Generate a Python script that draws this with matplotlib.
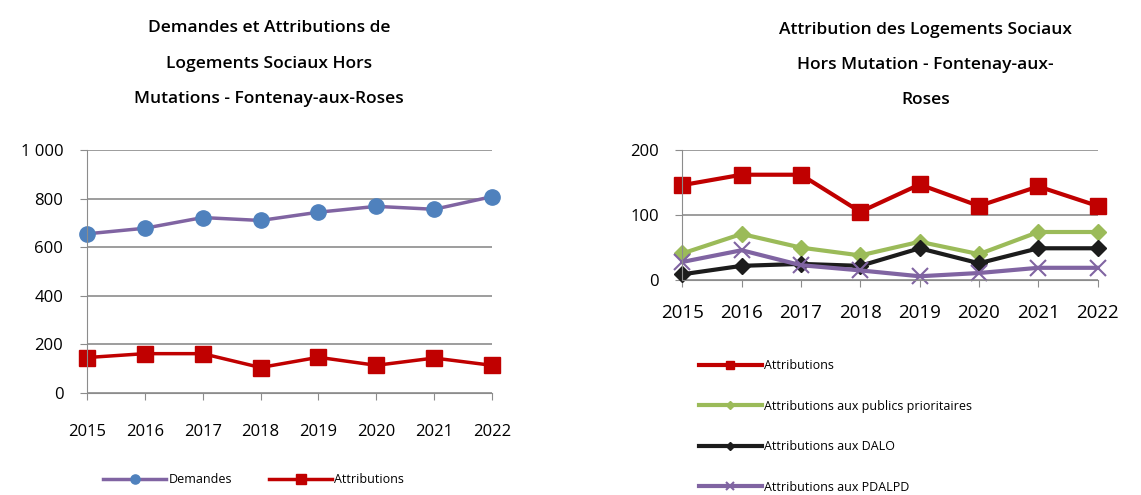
import matplotlib
matplotlib.use("Agg")
import matplotlib.pyplot as plt
import matplotlib.ticker as mticker

plt.rcParams['font.family'] = ['Open Sans', 'DejaVu Sans']

annees = [2015, 2016, 2017, 2018, 2019, 2020, 2021, 2022]
demandes = [655, 678, 722, 710, 744, 768, 756, 808]
attributions = [146, 162, 162, 105, 147, 114, 144, 114]
prioritaires = [41, 71, 50, 38, 59, 40, 74, 74]
dalo = [9, 22, 25, 22, 49, 26, 49, 49]
pdalpd = [28, 46, 23, 15, 6, 11, 19, 19]

grid_col = "#8c8c8c"


def style_axes(ax):
    for s in ["top", "right"]:
        ax.spines[s].set_visible(False)
    ax.spines["left"].set_color(grid_col)
    ax.spines["bottom"].set_color(grid_col)
    ax.yaxis.grid(True, color=grid_col, lw=1.2)
    ax.set_axisbelow(True)
    ax.tick_params(axis="both", colors=grid_col, labelcolor="black", labelsize=12, length=5)
    ax.tick_params(axis="y", pad=12)
    ax.set_xticks(annees)
    ax.set_xlim(annees[0], annees[-1])


fig = plt.figure(figsize=(11.41, 4.95), dpi=100)

# graphique de gauche
ax1 = fig.add_axes([0.0762, 0.206, 0.355, 0.491])
ax1.plot(annees, demandes, color="#8064A2", lw=2.5, marker="o", ms=11,
         mfc="#4F81BD", mec="#4F81BD", label="Demandes", clip_on=False)
ax1.plot(annees, attributions, color="#C00000", lw=2.5, marker="s", ms=11,
         mfc="#C00000", mec="#C00000", label="Attributions", clip_on=False)
ax1.set_ylim(0, 1000)
ax1.set_yticks([0, 200, 400, 600, 800, 1000])
ax1.yaxis.set_major_formatter(mticker.FuncFormatter(lambda v, p: f"{int(v):,}".replace(",", " ")))
style_axes(ax1)
ax1.tick_params(axis="x", pad=17)
ax1.set_title("Demandes et Attributions de\nLogements Sociaux Hors\nMutations - Fontenay-aux-Roses",
              fontsize=12.5, fontweight="semibold", linespacing=2.6, pad=34, x=0.45)
ax1.legend(loc="upper left", bbox_to_anchor=(92 / 1141, 33 / 495), bbox_transform=fig.transFigure,
           ncol=2, frameon=False, fontsize=9, handlelength=5, markerscale=0.6,
           columnspacing=3, handletextpad=0.2)

# graphique de droite
ax2 = fig.add_axes([0.598, 0.434, 0.364, 0.263])
ax2.plot(annees, attributions, color="#C00000", lw=3, marker="s", ms=12,
         label="Attributions", clip_on=False)
ax2.plot(annees, prioritaires, color="#9BBB59", lw=3, marker="D", ms=8,
         label="Attributions aux publics prioritaires", clip_on=False)
ax2.plot(annees, dalo, color="#1C1C1C", lw=3, marker="D", ms=8,
         label="Attributions aux DALO", clip_on=False)
ax2.plot(annees, pdalpd, color="#8064A2", lw=3, marker="x", ms=12, mew=1.5,
         label="Attributions aux PDALPD", clip_on=False)
ax2.set_ylim(0, 200)
ax2.set_yticks([0, 100, 200])
style_axes(ax2)
ax2.tick_params(axis="x", labelsize=13.5, pad=12)
ax2.set_title("Attribution des Logements Sociaux\nHors Mutation - Fontenay-aux-\nRoses",
              fontsize=12.5, fontweight="semibold", linespacing=2.6, pad=33, x=0.585)
ax2.legend(loc="upper left", bbox_to_anchor=(688 / 1141, 147 / 495), bbox_transform=fig.transFigure,
           ncol=1, frameon=False, fontsize=9, handlelength=5, markerscale=0.5,
           labelspacing=2.2, handletextpad=0.2)

fig.savefig("out.png", dpi=100)
